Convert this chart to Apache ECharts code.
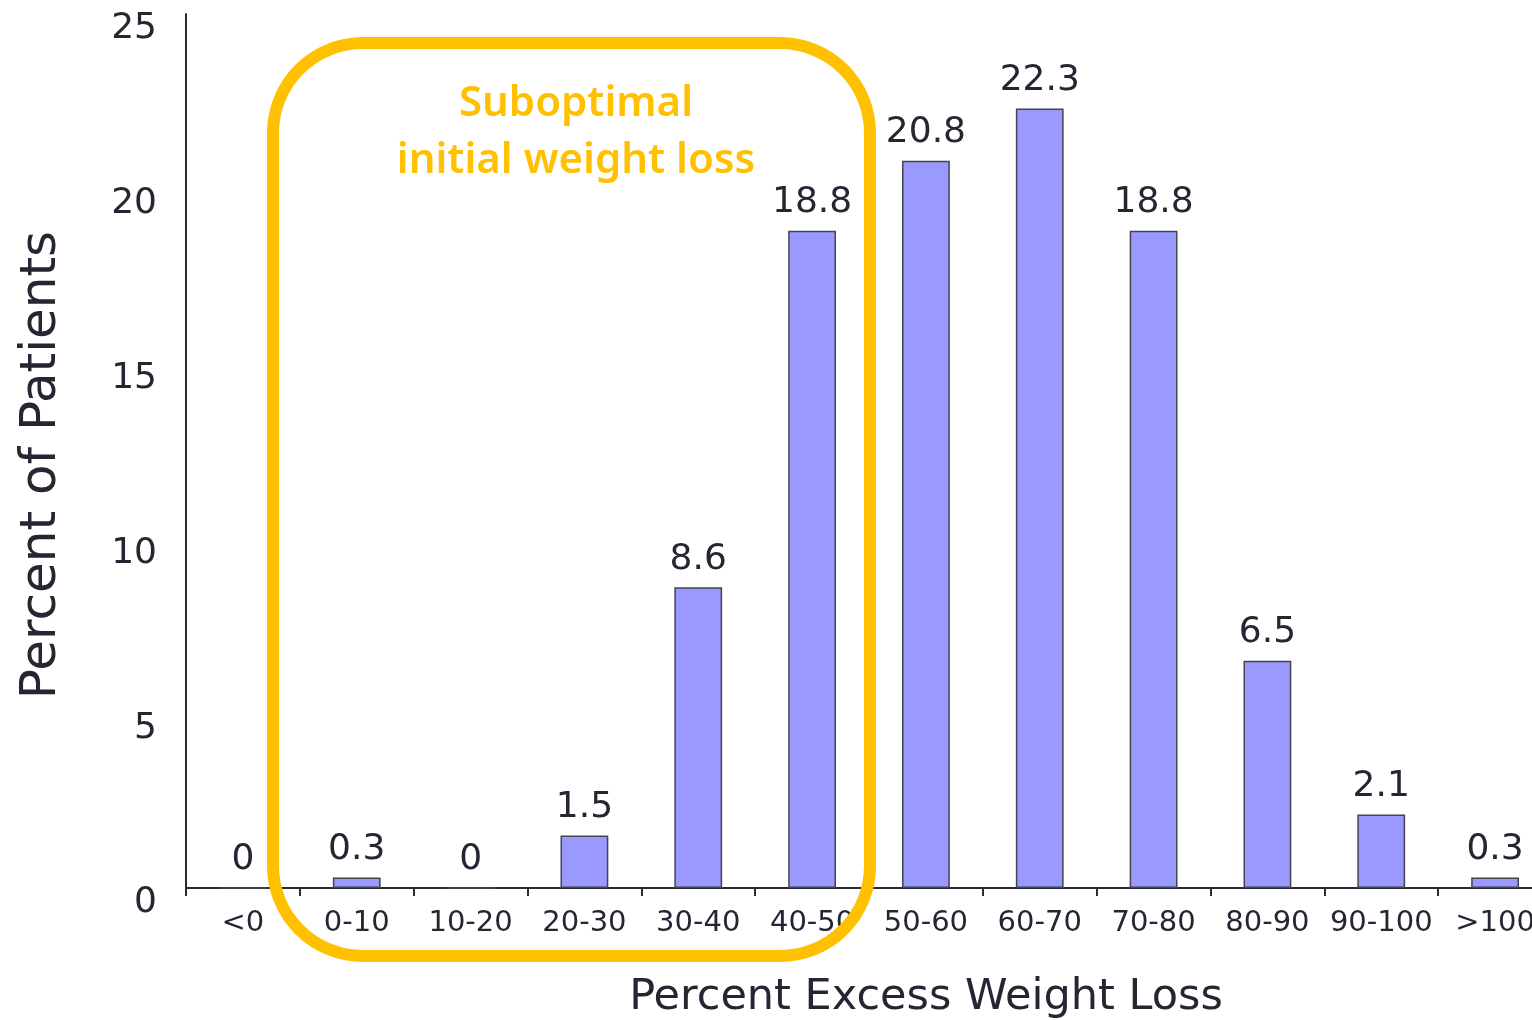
<!DOCTYPE html>
<html>
<head>
<meta charset="utf-8">
<title>Percent Excess Weight Loss</title>
<script src="https://cdn.jsdelivr.net/npm/echarts@6/dist/echarts.min.js"></script>
<style>
  html, body { margin: 0; padding: 0; background: #ffffff; }
  #chart { width: 1532px; height: 1020px; }
</style>
</head>
<body>
<div id="chart"></div>
<script>
// Distribution of patients by percent excess weight loss
const categories = ['<0', '0-10', '10-20', '20-30', '30-40', '40-50', '50-60', '60-70', '70-80', '80-90', '90-100', '>100'];
const patientPercent = [0, 0.3, 0, 1.5, 8.6, 18.8, 20.8, 22.3, 18.8, 6.5, 2.1, 0.3];
const yTicks = [0, 5, 10, 15, 20, 25];

const axisColor = '#2b2b36';
const textColor = '#262633';
const highlight = '#FFC000';
const font = '"DejaVu Sans", Verdana, sans-serif';

const chart = echarts.init(document.getElementById('chart'), null, { renderer: 'canvas' });

chart.setOption({
  backgroundColor: '#ffffff',
  animation: false,
  grid: { left: 186, top: 14, width: 1366, height: 874, containLabel: false, outerBoundsMode: 'none' },
  xAxis: {
    type: 'category',
    data: categories,
    boundaryGap: true,
    name: 'Percent Excess Weight Loss',
    nameLocation: 'middle',
    nameGap: 88,
    nameTextStyle: { fontFamily: font, fontSize: 43, color: textColor, padding: [0, 0, 0, 114] },
    axisLine: { show: true, lineStyle: { color: axisColor, width: 2 } },
    axisTick: { show: true, alignWithLabel: false, length: 8, lineStyle: { color: axisColor, width: 2 } },
    axisLabel: { fontFamily: font, fontSize: 29, color: textColor, margin: 21, interval: 0 },
    splitLine: { show: false }
  },
  yAxis: {
    type: 'value',
    min: yTicks[0],
    max: yTicks[yTicks.length - 1],
    interval: yTicks[1] - yTicks[0],
    name: 'Percent of Patients',
    nameLocation: 'middle',
    nameGap: 119,
    nameRotate: 90,
    nameTextStyle: { fontFamily: font, fontSize: 50, color: textColor, padding: [0, 28, 0, 0] },
    axisLine: { show: true, lineStyle: { color: axisColor, width: 2 } },
    axisTick: { show: false },
    axisLabel: {
      fontFamily: font, fontSize: 36, color: textColor, margin: 29,
      verticalAlign: 'top', lineHeight: 30
    },
    splitLine: { show: false }
  },
  series: [{
    type: 'bar',
    data: patientPercent,
    barWidth: '42%',
    itemStyle: { color: '#9999FF', borderColor: '#44444f', borderWidth: 1.5 },
    label: {
      show: true,
      position: 'top',
      distance: 10,
      fontFamily: font,
      fontSize: 36,
      color: textColor,
      formatter: (p) => String(p.value)
    }
  }],
  graphic: [
    {
      type: 'rect',
      z: 100,
      shape: { x: 273, y: 43, width: 597, height: 913, r: 90 },
      style: { fill: 'none', stroke: highlight, lineWidth: 12 }
    },
    {
      type: 'text',
      z: 100,
      x: 576,
      y: 104,
      style: {
        text: 'Suboptimal',
        fill: highlight,
        font: '600 42px "Noto Sans", "Open Sans", sans-serif',
        textAlign: 'center',
        textVerticalAlign: 'middle',
        shadowColor: 'rgba(0,0,0,0.4)',
        shadowBlur: 3,
        shadowOffsetX: 2,
        shadowOffsetY: 2
      }
    },
    {
      type: 'text',
      z: 100,
      x: 576,
      y: 161,
      style: {
        text: 'initial weight loss',
        fill: highlight,
        font: '600 42px "Noto Sans", "Open Sans", sans-serif',
        textAlign: 'center',
        textVerticalAlign: 'middle',
        shadowColor: 'rgba(0,0,0,0.4)',
        shadowBlur: 3,
        shadowOffsetX: 2,
        shadowOffsetY: 2
      }
    }
  ]
});
</script>
</body>
</html>
